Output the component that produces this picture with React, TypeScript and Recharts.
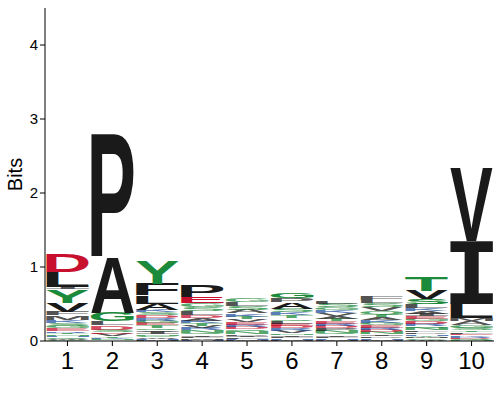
import React from 'react';
import { BarChart, Bar, XAxis, YAxis, Label } from 'recharts';

// sequence logo, 10 positions; letters listed top -> bottom with their height in bits
const positions = ['1', '2', '3', '4', '5', '6', '7', '8', '9', '10'];

const col1Letters = ['D', 'L', 'I', 'Y', 'V', 'F', 'M', 'K', 'S', 'G', 'E', 'R', 'T', 'N', 'H', 'Q', 'W', 'C'];
const col1Bits = [0.236, 0.207, 0.03, 0.176, 0.122, 0.06, 0.06, 0.04, 0.04, 0.03, 0.03, 0.025, 0.025, 0.02, 0.02, 0.02, 0.015, 0.01];

const col2Letters = ['P', 'A', 'G', 'L', 'D', 'S', 'E', 'V', 'T', 'K', 'N', 'Q'];
const col2Bits = [1.665, 0.746, 0.12, 0.06, 0.06, 0.03, 0.025, 0.03, 0.02, 0.015, 0.015, 0.01];

const col3Letters = ['Y', 'F', 'L', 'A', 'K', 'S', 'D', 'R', 'G', 'E', 'T', 'Q', 'V', 'I', 'N', 'C', 'W', 'H', 'M'];
const col3Bits = [0.31, 0.15, 0.11, 0.08, 0.04, 0.04, 0.04, 0.035, 0.035, 0.03, 0.03, 0.03, 0.025, 0.03, 0.02, 0.02, 0.02, 0.015, 0.015];

const col4Letters = ['P', 'E', 'G', 'S', 'L', 'D', 'A', 'K', 'T', 'V', 'R', 'N', 'Q', 'I', 'F', 'M', 'H'];
const col4Bits = [0.16, 0.08, 0.06, 0.05, 0.05, 0.04, 0.04, 0.035, 0.035, 0.03, 0.03, 0.03, 0.03, 0.025, 0.02, 0.02, 0.015];

const col5Letters = ['G', 'L', 'S', 'A', 'K', 'T', 'V', 'E', 'R', 'D', 'Q', 'N', 'P', 'I', 'F', 'H', 'M'];
const col5Bits = [0.06, 0.05, 0.05, 0.05, 0.04, 0.04, 0.035, 0.035, 0.03, 0.03, 0.03, 0.03, 0.025, 0.025, 0.02, 0.015, 0.01];

const col6Letters = ['G', 'P', 'A', 'S', 'K', 'T', 'Q', 'L', 'E', 'D', 'R', 'V', 'N', 'I', 'F', 'H', 'M'];
const col6Bits = [0.075, 0.065, 0.08, 0.05, 0.04, 0.04, 0.035, 0.035, 0.035, 0.03, 0.03, 0.03, 0.025, 0.025, 0.02, 0.02, 0.015];

const col7Letters = ['L', 'S', 'G', 'K', 'V', 'A', 'T', 'E', 'R', 'D', 'P', 'N', 'Q', 'I', 'F', 'H', 'M'];
const col7Bits = [0.04, 0.05, 0.04, 0.04, 0.04, 0.035, 0.035, 0.035, 0.03, 0.03, 0.03, 0.03, 0.025, 0.025, 0.02, 0.02, 0.015];

const col8Letters = ['F', 'L', 'S', 'V', 'Q', 'T', 'A', 'K', 'G', 'E', 'R', 'D', 'N', 'I', 'P', 'H', 'M'];
const col8Bits = [0.055, 0.04, 0.06, 0.05, 0.045, 0.04, 0.04, 0.035, 0.035, 0.03, 0.03, 0.03, 0.03, 0.025, 0.025, 0.02, 0.015];

const col9Letters = ['T', 'V', 'S', 'L', 'K', 'A', 'I', 'E', 'G', 'D', 'R', 'Q', 'N', 'F', 'P', 'H', 'Y', 'M', 'C', 'W'];
const col9Bits = [0.19, 0.115, 0.07, 0.05, 0.04, 0.04, 0.035, 0.035, 0.035, 0.03, 0.03, 0.03, 0.03, 0.025, 0.025, 0.02, 0.02, 0.015, 0.02, 0.015];

const col10Letters = ['V', 'I', 'L', 'M', 'A', 'G', 'S', 'T', 'F', 'E', 'K', 'R', 'D', 'Q', 'N'];
const col10Bits = [0.98, 0.845, 0.2, 0.04, 0.06, 0.03, 0.03, 0.025, 0.025, 0.02, 0.02, 0.015, 0.015, 0.015, 0.01];

const bitTicks = [0, 1, 2, 3, 4];

const columns: [string[], number[]][] = [
  [col1Letters, col1Bits],
  [col2Letters, col2Bits],
  [col3Letters, col3Bits],
  [col4Letters, col4Bits],
  [col5Letters, col5Bits],
  [col6Letters, col6Bits],
  [col7Letters, col7Bits],
  [col8Letters, col8Bits],
  [col9Letters, col9Bits],
  [col10Letters, col10Bits],
];

const levelCount = Math.max(...columns.map(([l]) => l.length));
const levels = Array.from({ length: levelCount }, (_, k) => k);

// level 0 is the bottom of the stack
const data = positions.map((pos, i) => {
  const [letters, bits] = columns[i];
  const row: Record<string, string | number> = { pos };
  levels.forEach((k) => {
    const idx = letters.length - 1 - k;
    row[`h${k}`] = idx >= 0 ? bits[idx] : 0;
    row[`l${k}`] = idx >= 0 ? letters[idx] : '';
  });
  return row;
});

const FONT = '"Liberation Sans", Arial, Helvetica, sans-serif';
const I_FONT = '"DejaVu Sans Mono", monospace';

const colorOf = (l: string) => {
  if ('DE'.includes(l)) return '#c8102e';
  if ('KRH'.includes(l)) return '#24519f';
  if ('GSTYCQN'.includes(l)) return '#1b8a3a';
  return '#1a1a1a';
};

// ink box of each glyph at 100px, so it can be stretched to fill its cell
const boxCache: Record<string, { left: number; right: number; top: number; bottom: number }> = {};
let ctx: CanvasRenderingContext2D | null = null;
const glyphBox = (letter: string) => {
  if (boxCache[letter]) return boxCache[letter];
  if (!ctx) ctx = document.createElement('canvas').getContext('2d');
  ctx!.font = `bold 100px ${letter === 'I' ? I_FONT : FONT}`;
  const m = ctx!.measureText(letter);
  const box = {
    left: -m.actualBoundingBoxLeft,
    right: m.actualBoundingBoxRight,
    top: -m.actualBoundingBoxAscent,
    bottom: m.actualBoundingBoxDescent,
  };
  boxCache[letter] = box;
  return box;
};

const Glyph = (props: any) => {
  const { x, y, width, height, letter } = props;
  if (!letter || !height || height <= 0) return <g />;
  const b = glyphBox(letter);
  // tiny letters come out as faint smears in the original, leave a hairline between them
  const small = height <= 5;
  const h = small ? height * 0.85 : height;
  const sx = width / (b.right - b.left);
  const sy = h / (b.bottom - b.top);
  return (
    <text
      x={0}
      y={0}
      fontFamily={letter === 'I' ? I_FONT : FONT}
      fontWeight="bold"
      fontSize={100}
      fill={colorOf(letter)}
      fillOpacity={small ? 0.75 : 1}
      transform={`translate(${x} ${y}) scale(${sx} ${sy}) translate(${-b.left} ${-b.top})`}
    >
      {letter}
    </text>
  );
};

const BitsLabel = ({ viewBox }: any) => {
  const cx = 15;
  const cy = viewBox.y + viewBox.height / 2;
  return (
    <text
      x={cx}
      y={cy}
      transform={`rotate(-90 ${cx} ${cy})`}
      textAnchor="middle"
      dominantBaseline="central"
      fontSize={20}
      fontFamily={FONT}
      fill="#000"
    >
      Bits
    </text>
  );
};

export default function App() {
  return (
    <div style={{ position: 'absolute', left: 0, top: 0, fontFamily: FONT }}>
      <BarChart
        width={500}
        height={400}
        data={data}
        margin={{ top: 8, right: 6, bottom: 0, left: 0 }}
        barCategoryGap={1}
      >
        <XAxis
          dataKey="pos"
          height={59}
          tickSize={5}
          tickMargin={6}
          stroke="#000"
          tick={{ fontSize: 24, fill: '#000', fontFamily: FONT }}
        />
        <YAxis
          width={45}
          domain={[0, 4.5]}
          ticks={bitTicks}
          tickSize={5}
          stroke="#000"
          tick={{ fontSize: 15, fill: '#000', fontFamily: FONT }}
        >
          <Label content={BitsLabel} />
        </YAxis>
        {levels.map((k) => (
          <Bar
            key={k}
            dataKey={`h${k}`}
            stackId="logo"
            isAnimationActive={false}
            shape={(p: any) => <Glyph {...p} letter={p.payload[`l${k}`]} />}
          />
        ))}
      </BarChart>
    </div>
  );
}
